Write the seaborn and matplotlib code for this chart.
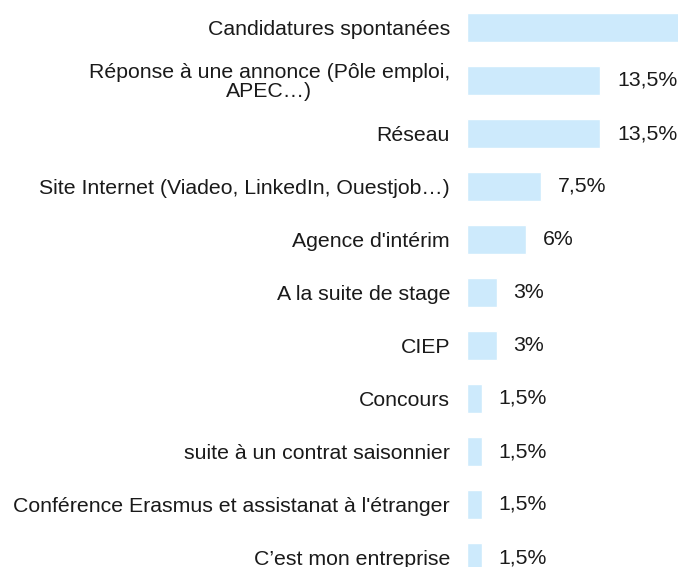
import matplotlib
matplotlib.use("Agg")
import matplotlib.pyplot as plt
import pandas as pd
import seaborn as sns

categories = [
    "Candidatures spontanées",
    "Réponse à une annonce (Pôle emploi,\nAPEC…)",
    "Réseau",
    "Site Internet (Viadeo, LinkedIn, Ouestjob…)",
    "Agence d'intérim",
    "A la suite de stage",
    "CIEP",
    "Concours",
    "suite à un contrat saisonnier",
    "Conférence Erasmus et assistanat à l'étranger",
    "C’est mon entreprise",
]
values = [47.5, 13.5, 13.5, 7.5, 6, 3, 3, 1.5, 1.5, 1.5, 1.5]
value_labels = ["47,5%", "13,5%", "13,5%", "7,5%", "6%", "3%", "3%",
                "1,5%", "1,5%", "1,5%", "1,5%"]

sns.set_theme(style="white")
plt.rcParams["font.family"] = ["Liberation Sans", "DejaVu Sans"]

FS = 15.3
PAD = 12.2  # points

df = pd.DataFrame({"source": categories, "pct": values})

fig = plt.figure(figsize=(6.78, 5.67), dpi=100)
ax = fig.add_axes([467 / 678, 0, 211 / 678, 1])

sns.barplot(data=df, y="source", x="pct", orient="h", color="#cdeafc",
            saturation=1, width=0.55, ax=ax)

ax.set_xlim(0, 211 / 9.85)
ax.set_ylim((567 - 27.5) / 53, -27.5 / 53)

for i, (v, lab) in enumerate(zip(values, value_labels)):
    ax.annotate(lab, xy=(v, i), xytext=(PAD, 0), textcoords="offset points",
                ha="left", va="center", fontsize=FS, color="#1a1a1a",
                annotation_clip=True)

ax.set_xlabel("")
ax.set_ylabel("")
ax.set_xticks([])
ax.tick_params(axis="y", length=0, pad=PAD, labelsize=FS, labelcolor="#1a1a1a")
for t in ax.get_yticklabels():
    t.set_multialignment("center")
    t.set_linespacing(0.95)
for s in ax.spines.values():
    s.set_visible(False)

fig.savefig("out.png", dpi=100)
